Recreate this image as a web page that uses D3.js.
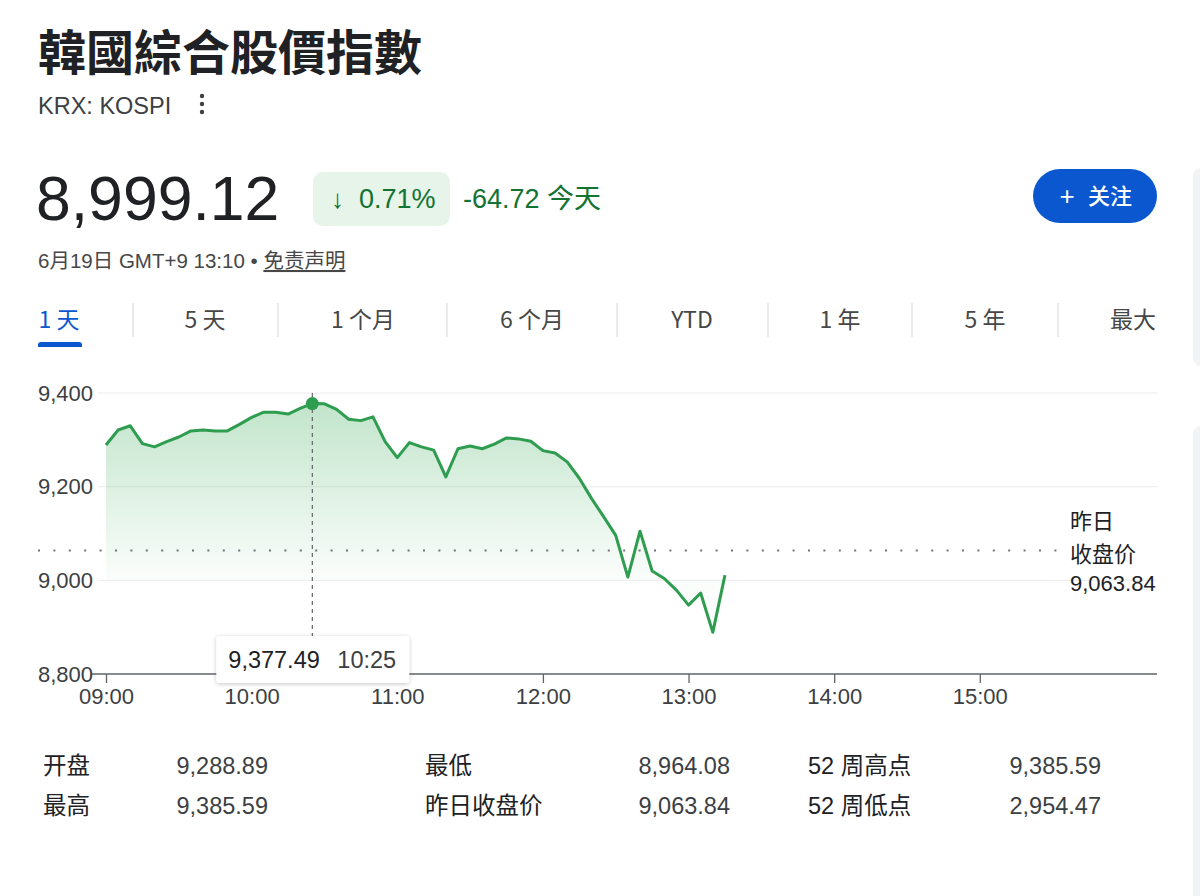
<!DOCTYPE html>
<html><head><meta charset="utf-8">
<script src="https://cdn.jsdelivr.net/npm/d3@7"></script>
<style>
html,body{margin:0;padding:0;background:#fff;}
svg{display:block;}
</style></head>
<body>
<svg id="c" width="1200" height="896"></svg>
<script>
// ---------- data ----------
const times = ["09:00","09:05","09:10","09:15","09:20","09:25","09:30","09:35","09:40","09:45","09:50","09:55",
"10:00","10:05","10:10","10:15","10:20","10:25","10:30","10:35","10:40","10:45","10:50","10:55",
"11:00","11:05","11:10","11:15","11:20","11:25","11:30","11:35","11:40","11:45","11:50","11:55",
"12:00","12:05","12:10","12:15","12:20","12:25","12:30","12:35","12:40","12:45","12:50","12:55",
"13:00","13:05","13:10","13:15"];
const values = [9289,9321,9330,9292,9285,9296,9306,9319,9321,9319,9319,9333,
9348,9359,9359,9355,9367,9377.49,9377,9365,9344,9341,9349,9296,
9262,9294,9285,9278,9221,9281,9287,9281,9291,9304,9302,9297,
9277,9272,9253,9218,9175,9136,9096,9007,9105,9020,9004,8979,
8947,8973,8889,9011];
const yTicks = [8800, 9000, 9200, 9400];
const xTickLabels = ["09:00","10:00","11:00","12:00","13:00","14:00","15:00"];
const prevClose = 9063.84;
const hoverTime = "10:25";
const hoverValue = 9377.49;
const tabs = ["1 天","5 天","1 个月","6 个月","YTD","1 年","5 年","最大"];
const statLabels1 = ["开盘","最高"], statValues1 = ["9,288.89","9,385.59"];
const statLabels2 = ["最低","昨日收盘价"], statValues2 = ["8,964.08","9,063.84"];
const statLabels3 = ["52 周高点","52 周低点"], statValues3 = ["9,385.59","2,954.47"];

const LATIN = '"Liberation Sans", Arial, Helvetica, "Noto Sans CJK SC", sans-serif';
const CJK_TC = '"Noto Sans CJK TC", "Noto Sans CJK SC", sans-serif';
const CJK_SC = '"Noto Sans CJK SC", sans-serif';
const GREEN = "#2e9d4f";
const svg = d3.select("#c");
const toMin = t => { const [h,m] = t.split(":").map(Number); return h*60+m; };

// right edge grey panels
svg.append("rect").attr("x",1193).attr("y",168).attr("width",20).attr("height",198).attr("rx",8).attr("fill","#f1f3f4");
svg.append("rect").attr("x",1193).attr("y",426).attr("width",20).attr("height",480).attr("rx",8).attr("fill","#f1f3f4");

// ---------- header ----------
svg.append("text").attr("x",38).attr("y",70).text("韓國綜合股價指數")
  .attr("font-family",CJK_TC).attr("font-weight",700).attr("font-size",48).attr("fill","#202124");
svg.append("text").attr("x",38).attr("y",114).text("KRX: KOSPI")
  .attr("font-family",LATIN).attr("font-size",23.5).attr("fill","#3c4043");
[-8,0,8].forEach(d=> svg.append("circle").attr("cx",202).attr("cy",104+d).attr("r",2.2).attr("fill","#3c4043"));

svg.append("text").attr("x",36).attr("y",220).text("8,999.12")
  .attr("font-family",LATIN).attr("font-size",62.5).attr("fill","#202124");
svg.append("rect").attr("x",313).attr("y",172).attr("width",137).attr("height",54).attr("rx",10).attr("fill","#e6f4ea");
svg.append("text").attr("x",331).attr("y",208).text("↓")
  .attr("font-family",LATIN).attr("font-size",26).attr("fill","#137333");
svg.append("text").attr("x",359).attr("y",208).text("0.71%")
  .attr("font-family",LATIN).attr("font-size",27).attr("fill","#137333");
svg.append("text").attr("x",463).attr("y",208).text("-64.72 今天")
  .attr("font-family",LATIN).attr("font-size",27).attr("fill","#137333");

const dl = svg.append("text").attr("x",38).attr("y",268)
  .attr("font-family",LATIN).attr("font-size",20.5).attr("fill","#474747");
dl.append("tspan").text("6月19日 GMT+9 13:10 • ");
dl.append("tspan").text("免责声明").attr("text-decoration","underline");

// follow button
svg.append("rect").attr("x",1033).attr("y",169).attr("width",124).attr("height",54).attr("rx",27).attr("fill","#0b57d0");
svg.append("text").attr("x",1067).attr("y",205).attr("text-anchor","middle").text("+")
  .attr("font-family",LATIN).attr("font-size",26).attr("fill","#fff");
svg.append("text").attr("x",1088).attr("y",204).text("关注")
  .attr("font-family",CJK_SC).attr("font-weight",500).attr("font-size",22).attr("fill","#fff");

// ---------- tabs ----------
const tabCenters = [59,205,363,532,692,840,985,1133];
const tabSeps = [133,278,447,617,768,912,1058];
tabs.forEach((t,i)=>{
  svg.append("text").attr("x",tabCenters[i]).attr("y",328).attr("text-anchor","middle").text(t)
    .attr("font-family",CJK_SC).attr("font-size",23)
    .attr("fill", i===0 ? "#0b57d0" : "#474747");
});
tabSeps.forEach(x=> svg.append("line").attr("x1",x).attr("x2",x).attr("y1",303).attr("y2",337).attr("stroke","#dadce0").attr("stroke-width",1.2));
svg.append("path").attr("d","M38,347 L38,345 Q38,342 41,342 L79,342 Q82,342 82,345 L82,347 Z").attr("fill","#0b57d0");

// ---------- chart ----------
const x = d3.scaleLinear().domain([toMin("09:00"), toMin("16:13")]).range([106,1157]);
const y = d3.scaleLinear().domain([8800,9400]).range([674,393]);
const data = times.map((t,i)=>({m:toMin(t), v:values[i]}));

const defs = svg.append("defs");
const grad = defs.append("linearGradient").attr("id","g").attr("gradientUnits","userSpaceOnUse")
  .attr("x1",0).attr("x2",0).attr("y1",y(9400)).attr("y2",y(9000));
grad.append("stop").attr("offset",0).attr("stop-color","#34a853").attr("stop-opacity",0.32);
grad.append("stop").attr("offset",1).attr("stop-color","#34a853").attr("stop-opacity",0.02);
const sh = defs.append("filter").attr("id","sh").attr("x","-20%").attr("y","-30%").attr("width","140%").attr("height","170%");
sh.append("feDropShadow").attr("dx",0).attr("dy",1).attr("stdDeviation",2).attr("flood-color","#000").attr("flood-opacity",0.22);

// gridlines
svg.append("g").selectAll("line").data(yTicks.filter(d=>d!==8800)).join("line")
  .attr("x1",98).attr("x2",1157).attr("y1",d=>y(d)).attr("y2",d=>y(d))
  .attr("stroke","#ececec").attr("stroke-width",1);

// y labels
const yAxis = svg.append("g").attr("transform","translate(93,0)")
  .call(d3.axisLeft(y).tickValues(yTicks).tickSize(0).tickPadding(0).tickFormat(d3.format(",")));
yAxis.select(".domain").remove();
yAxis.selectAll("text").attr("font-family",LATIN).attr("font-size",22).attr("fill","#3c4043");

// area
svg.append("path").datum(data)
  .attr("d", d3.area().x(d=>x(d.m)).y0(y(9000)).y1(d=>y(d.v)))
  .attr("fill","url(#g)");

// prev close dotted line
svg.append("line").attr("x1",38).attr("x2",1062).attr("y1",y(prevClose)).attr("y2",y(prevClose))
  .attr("stroke","#70757a").attr("stroke-width",2).attr("stroke-dasharray","2,13.4");

// line
svg.append("path").datum(data)
  .attr("d", d3.line().x(d=>x(d.m)).y(d=>y(d.v)))
  .attr("fill","none").attr("stroke",GREEN).attr("stroke-width",3).attr("stroke-linejoin","round");

// x axis
const xAxis = svg.append("g").attr("transform",`translate(0,${y(8800)})`)
  .call(d3.axisBottom(x).tickValues(xTickLabels.map(toMin)).tickSize(9).tickPadding(5)
    .tickFormat((d,i)=>xTickLabels[i]));
xAxis.select(".domain").remove();
xAxis.selectAll(".tick line").attr("stroke","#5f6368").attr("stroke-width",1.3);
xAxis.selectAll("text").attr("font-family",LATIN).attr("font-size",22).attr("fill","#3c4043");
svg.append("line").attr("x1",92).attr("x2",x.range()[1]).attr("y1",y(8800)).attr("y2",y(8800))
  .attr("stroke","#5f6368").attr("stroke-width",1.3);

// right label
[["昨日",529],["收盘价",562],["9,063.84",591]].forEach(([t,yy])=>{
  svg.append("text").attr("x",1070).attr("y",yy).text(t)
    .attr("font-family",LATIN).attr("font-size",22).attr("fill","#202124");
});

// hover crosshair + tooltip
const hx = x(toMin(hoverTime));
svg.append("line").attr("x1",hx).attr("x2",hx).attr("y1",y(9400)).attr("y2",636)
  .attr("stroke","#5f6368").attr("stroke-width",1.2).attr("stroke-dasharray","4,4");
svg.append("circle").attr("cx",hx).attr("cy",y(hoverValue)).attr("r",6.5).attr("fill",GREEN);
svg.append("rect").attr("x",hx-96).attr("y",636).attr("width",193).attr("height",47).attr("rx",3)
  .attr("fill","#fff").attr("filter","url(#sh)");
svg.append("text").attr("x",hx-84).attr("y",668).text(d3.format(",.2f")(hoverValue))
  .attr("font-family",LATIN).attr("font-size",23.5).attr("fill","#202124");
svg.append("text").attr("x",hx+25).attr("y",668).text(hoverTime)
  .attr("font-family",LATIN).attr("font-size",23.5).attr("fill","#3c4043");

// ---------- stats ----------
const STAT = '"Liberation Sans", Arial, "Noto Sans CJK SC", sans-serif';
const rowsY = [774, 814];
function statCol(labels, vals, lx, vx){
  labels.forEach((l,i)=> svg.append("text").attr("x",lx).attr("y",rowsY[i]).text(l)
    .attr("font-family",STAT).attr("font-size",23.5).attr("fill","#202124"));
  vals.forEach((v,i)=> svg.append("text").attr("x",vx).attr("y",rowsY[i]).attr("text-anchor","end").text(v)
    .attr("font-family",STAT).attr("font-size",23.5).attr("fill","#3c4043"));
}
statCol(statLabels1, statValues1, 43, 268);
statCol(statLabels2, statValues2, 425, 730);
statCol(statLabels3, statValues3, 808, 1101);
</script>
</body></html>
